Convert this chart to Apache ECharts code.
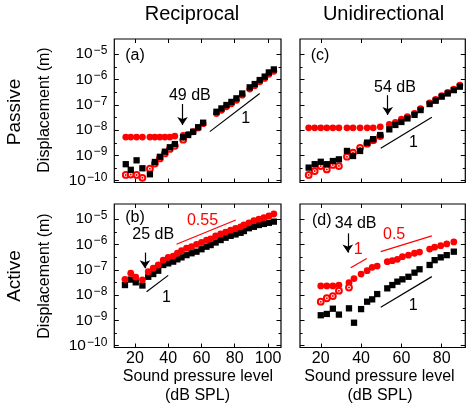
<!DOCTYPE html>
<html><head><meta charset="utf-8">
<script src="https://cdn.jsdelivr.net/npm/echarts@6/dist/echarts.min.js"></script>
<style>html,body{margin:0;padding:0;background:#fff}#c{width:474px;height:415px}</style>
</head><body><div id="c"></div>
<script>
// ---------- data ----------
// (a) Reciprocal, passive
const aX = [14.5, 17.5, 21, 24.5, 29, 32, 35, 38, 41, 44, 49, 52, 55, 58, 61, 69, 72, 75, 78, 81, 84.5, 89, 92, 95, 98, 100.5, 103.5];
const aBlack = [4.5e-10, 2.7e-10, 6.4e-10, 3.1e-10, 1.8e-10, 5.5e-10, 8.8e-10, 1.4e-9, 2.1e-9, 2.8e-9, 5.2e-9, 6.4e-9, 8.6e-9, 1.3e-8, 1.96e-8, 5.3e-8, 7.2e-8, 9.8e-8, 1.3e-7, 1.8e-7, 2.8e-7, 4.9e-7, 6.6e-7, 9.5e-7, 1.3e-6, 1.9e-6, 2.5e-6];
const aRed = [5.3e-9, 5.3e-9, 5.3e-9, 5.3e-9, 5.3e-9, 5.3e-9, 5.3e-9, 5.3e-9, 5.3e-9, 5.8e-9, 6.2e-9, 6.8e-9, 8.6e-9, 1.2e-8, 1.8e-8, 4.5e-8, 6.1e-8, 8.3e-8, 1.1e-7, 1.5e-7, 2.4e-7, 4.2e-7, 5.6e-7, 8.1e-7, 1.1e-6, 1.6e-6, 2.1e-6];
const aOpen = [1.7e-10, 1.75e-10, 1.7e-10, 1.3e-10, 3.0e-10, 4.8e-10, 7.6e-10, 1.2e-9, 1.8e-9, 2.4e-9, 4.2e-9];
// (c) Unidirectional, passive
const cX = [14, 17, 20, 23, 26, 29, 33, 36, 39.5, 43, 46, 49.5, 54, 57, 60, 63, 66.5, 69.5, 74, 77, 80, 83, 86, 89];
const cBlack = [3.3e-10, 4.5e-10, 5.6e-10, 4.5e-10, 6e-10, 7e-10, 1.5e-9, 9.5e-10, 1.5e-9, 3.2e-9, 4.4e-9, 6.4e-9, 1.07e-8, 1.6e-8, 2.1e-8, 2.9e-8, 4e-8, 6.2e-8, 1.07e-7, 1.45e-7, 2.1e-7, 2.8e-7, 3.8e-7, 5.2e-7];
const cRed = [1.23e-8, 1.23e-8, 1.23e-8, 1.23e-8, 1.23e-8, 1.23e-8, 1.23e-8, 1.23e-8, 1.23e-8, 1.23e-8, 1.23e-8, 1.35e-8, 1.7e-8, 2.0e-8, 2.7e-8, 3.4e-8, 4.6e-8, 7.1e-8, 1.2e-7, 1.65e-7, 2.3e-7, 3.1e-7, 4.2e-7, 6e-7];
const cOpen = [1.7e-10, 2.4e-10, 3.8e-10, 2.8e-10, 4.2e-10, 3.8e-10, 8.9e-10, 1.3e-9, 2e-9, 2.9e-9, 4e-9, 5.8e-9];
// (b) Reciprocal, active
const bX = [14, 17.5, 20.5, 24.5, 28, 31, 34, 37, 40, 43, 45.5, 48, 51, 54, 57, 60, 63, 65.5, 68.5, 71.5, 74.5, 77.5, 80.5, 83.5, 85.5, 88.5, 91.5, 94.5, 97.5, 100.5, 103.5];
const bRed = [4.2e-8, 7.3e-8, 5.1e-8, 4e-8, 8.4e-8, 1.15e-7, 1.55e-7, 2.4e-7, 3.1e-7, 3.5e-7, 4.5e-7, 5.7e-7, 7.1e-7, 8.2e-7, 1.02e-6, 1.2e-6, 1.5e-6, 1.66e-6, 2.2e-6, 2.6e-6, 3.1e-6, 3.7e-6, 4.3e-6, 5e-6, 5.9e-6, 7.2e-6, 8.7e-6, 1e-5, 1.15e-5, 1.35e-5, 1.6e-5];
const bBlack = [2.5e-8, 4.1e-8, 3.2e-8, 2.4e-8, 5.3e-8, 6.8e-8, 9.2e-8, 1.55e-7, 1.8e-7, 2.1e-7, 2.6e-7, 3.1e-7, 3.8e-7, 4.5e-7, 5.2e-7, 6.5e-7, 8.2e-7, 9.5e-7, 1.2e-6, 1.5e-6, 1.85e-6, 2.2e-6, 2.5e-6, 2.9e-6, 3.4e-6, 4.4e-6, 5e-6, 5.9e-6, 6.5e-6, 7.2e-6, 8e-6];
const bOpen = [];
// (d) Unidirectional, active
const dX = [20, 23, 26, 29, 34, 36.5, 40, 43, 45.5, 48, 53, 55.5, 58, 60.5, 63.5, 66.5, 69, 74, 76.5, 79.5, 82.5, 86];
const dRed = [2.3e-8, 2.3e-8, 2.3e-8, 2.5e-8, 3.1e-8, 4.5e-8, 6.8e-8, 9.2e-8, 1.25e-7, 1.4e-7, 2.1e-7, 2.3e-7, 2.6e-7, 3.3e-7, 3.8e-7, 4.5e-7, 5e-7, 6.6e-7, 7.8e-7, 9e-7, 1.05e-6, 1.26e-6];
const dOpen = [5.5e-9, 7.5e-9, 9.2e-9, 1.5e-8, 2e-8];
const dBlack = [1.6e-9, 1.8e-9, 2.9e-9, 1.7e-9, 3e-9, 8.1e-10, 2.8e-9, 5.5e-9, 6.8e-9, 1.1e-8, 1.85e-8, 2.5e-8, 3.4e-8, 4.2e-8, 5.3e-8, 7.7e-8, 1.05e-7, 1.55e-7, 2.4e-7, 3.1e-7, 3.8e-7, 5.2e-7];

// tick labels
const xTicksLeft = [20, 40, 60, 80, 100];
const xTicksRight = [20, 40, 60, 80];
const yTickExp = [-10, -9, -8, -7, -6, -5];

// annotations: [text, x, log10(y), colour]
const aTexts = [['(a)', 20, -5.06, '#000'], ['49 dB', 53, -6.64, '#000'], ['1', 86.6, -7.53, '#000']];
const cTexts = [['(c)', 19.6, -5.06, '#000'], ['54 dB', 56.8, -6.32, '#000'], ['1', 66, -8.48, '#000']];
const bTexts = [['(b)', 20, -4.93, '#000'], ['25 dB', 31, -5.61, '#000'], ['1', 39, -8.09, '#000'], ['0.55', 60.6, -5.06, '#f00']];
const dTexts = [['(d)', 20.5, -5.06, '#000'], ['34 dB', 37.3, -5.16, '#000'], ['1', 38.6, -6.22, '#f00'], ['0.5', 56.4, -5.62, '#f00'], ['1', 65.9, -8.43, '#000']];
// arrows: [x, log10 start, log10 end]
const aArrows = [[48.6, -6.97, -7.8]];
const cArrows = [[53.2, -6.62, -7.4]];
const bArrows = [[26, -6.32, -6.94]];
const dArrows = [[33.4, -5.56, -6.32]];
// slope guides: [x1, log1, x2, log2, colour]
const aGuides = [[65, -8.06, 95, -6.55, '#000']];
const cGuides = [[49.75, -8.72, 75.1, -7.49, '#000']];
const bGuides = [[27, -7.87, 40, -7.22, '#000'], [45, -5.99, 80.6, -5.03, '#f00']];
const dGuides = [[34.86, -6.92, 42.8, -6.55, '#f00'], [49.75, -6.28, 75.1, -5.66, '#f00'], [49.75, -8.48, 75.1, -7.27, '#000']];

// ---------- layout ----------
const FONT = 'Liberation Sans';
const cols = [
  {left: 114.3, right: 281, xmin: 7.6, xmax: 107.8, ticks: xTicksLeft},
  {left: 300, right: 465.3, xmin: 9.7, xmax: 91.7, ticks: xTicksRight}
];
const rows = [{top: 39, bottom: 182.5}, {top: 204, bottom: 347.5}];
const LOGMIN = -10.07, LOGMAX = -4.4;

const panels = [
  {col: 0, row: 0, x: aX, black: aBlack, red: aRed, open: aOpen, redTop: false, texts: aTexts, arrows: aArrows, guides: aGuides},
  {col: 1, row: 0, x: cX, black: cBlack, red: cRed, open: cOpen, redTop: false, texts: cTexts, arrows: cArrows, guides: cGuides},
  {col: 0, row: 1, x: bX, black: bBlack, red: bRed, open: bOpen, redTop: true, texts: bTexts, arrows: bArrows, guides: bGuides},
  {col: 1, row: 1, x: dX, black: dBlack, red: dRed, open: dOpen, redTop: false, texts: dTexts, arrows: dArrows, guides: dGuides}
];

function px(col, v) { return col.left + (v - col.xmin) / (col.xmax - col.xmin) * (col.right - col.left); }
function py(row, e) { return row.top + (LOGMAX - e) / (LOGMAX - LOGMIN) * (row.bottom - row.top); }
function yLabel(v) {
  if (Math.abs(v - Math.round(v)) > 1e-6 || yTickExp.indexOf(Math.round(v)) < 0) return '';
  return '{a|10}{b|\u2212' + Math.abs(Math.round(v)) + '}';
}
const pairs = (xs, ys) => ys.map((y, k) => [xs[k], y]);

const grid = [], xAxis = [], yAxis = [], series = [];
panels.forEach(p => {
  const col = cols[p.col], row = rows[p.row];
  const tMin = col.ticks[0], tMax = col.ticks[col.ticks.length - 1];
  const eMin = yTickExp[0], eMax = yTickExp[yTickExp.length - 1];
  const gd = grid.length;
  grid.push({left: col.left, top: row.top, width: col.right - col.left, height: row.bottom - row.top,
    show: true, borderColor: '#000', borderWidth: 1.2, backgroundColor: 'transparent', containLabel: false, outerBoundsMode: 'none'});
  const l = px(col, tMin), r = px(col, tMax), t = py(row, eMax), b = py(row, eMin);
  const gt = grid.length;
  grid.push({left: l, top: t, width: r - l, height: b - t, show: false, containLabel: false, outerBoundsMode: 'none'});
  const xd = xAxis.length;
  xAxis.push({gridIndex: gd, type: 'value', min: col.xmin, max: col.xmax, show: false});
  const yd = yAxis.length;
  yAxis.push({gridIndex: gd, type: 'log', logBase: 10, min: Math.pow(10, LOGMIN), max: Math.pow(10, LOGMAX), show: false});
  ['bottom', 'top'].forEach(pos => xAxis.push({
    gridIndex: gt, type: 'value', position: pos, min: tMin, max: tMax, interval: 20,
    offset: pos === 'bottom' ? row.bottom - b : t - row.top,
    axisLine: {show: false, onZero: false},
    axisTick: {show: true, inside: true, length: 4, lineStyle: {color: '#000', width: 1}},
    splitLine: {show: false},
    axisLabel: {show: pos === 'bottom' && p.row === 1, margin: 3, fontSize: 16, fontFamily: FONT, color: '#000'}
  }));
  ['left', 'right'].forEach(pos => yAxis.push({
    gridIndex: gt, type: 'value', position: pos, min: eMin, max: eMax, interval: 1,
    offset: pos === 'left' ? l - col.left : col.right - r,
    axisLine: {show: false, onZero: false},
    axisTick: {show: true, inside: true, length: 4.5, lineStyle: {color: '#000', width: 1}},
    minorTick: {show: true, splitNumber: 2, length: 2.5, lineStyle: {color: '#000', width: 1}},
    splitLine: {show: false}, minorSplitLine: {show: false},
    axisLabel: {show: pos === 'left' && p.col === 0, margin: 7, formatter: yLabel,
      rich: {a: {fontSize: 15.5, fontFamily: FONT, color: '#000'},
             b: {fontSize: 12, fontFamily: FONT, color: '#000', verticalAlign: 'top', padding: [0, 0, 7, 1]}}}
  }));
  const common = {xAxisIndex: xd, yAxisIndex: yd, silent: true, animation: false};
  series.push(Object.assign({type: 'scatter', data: pairs(p.x, p.red), symbol: 'circle', symbolSize: 6.8,
    itemStyle: {color: '#f00', opacity: 1}, z: p.redTop ? 6 : 3}, common));
  if (p.open.length) {
    series.push(Object.assign({type: 'scatter', data: pairs(p.x, p.open), symbol: 'emptyCircle', symbolSize: 5.8,
      itemStyle: {color: '#f00', borderColor: '#f00', borderWidth: 1.4, opacity: 1}, z: 4}, common));
    series.push(Object.assign({type: 'scatter', data: pairs(p.x, p.open), symbol: 'circle', symbolSize: 2,
      itemStyle: {color: '#f00', opacity: 1}, z: 4}, common));
  }
  series.push(Object.assign({type: 'scatter', data: pairs(p.x, p.black), symbol: 'rect', symbolSize: 6.3,
    itemStyle: {color: '#000', opacity: 1}, z: 5,
    markLine: {silent: true, animation: false, symbol: ['none', 'arrow'], symbolSize: 8,
      label: {show: false}, lineStyle: {color: '#000', width: 1.2, type: 'solid', opacity: 1},
      emphasis: {disabled: true},
      data: p.arrows.map(a => [{coord: [a[0], Math.pow(10, a[1])]}, {coord: [a[0], Math.pow(10, a[2])]}])}
  }, common));
  p.guides.forEach(g => series.push(Object.assign({type: 'line', data: [[g[0], Math.pow(10, g[1])], [g[2], Math.pow(10, g[3])]],
    symbol: 'none', showSymbol: false, lineStyle: {color: g[4], width: 1.2, opacity: 1}, z: 2}, common)));
  series.push(Object.assign({type: 'scatter', symbol: 'circle', symbolSize: 1, itemStyle: {color: 'rgba(0,0,0,0)', opacity: 1}, z: 7,
    label: {show: true, position: 'inside', fontSize: 16, fontFamily: FONT, opacity: 1, textBorderWidth: 0},
    data: p.texts.map(tx => ({value: [tx[1], Math.pow(10, tx[2])], itemStyle: {opacity: 1},
      label: {formatter: tx[0], color: tx[3], opacity: 1}}))}, common));
});

function txt(s, x, y, size, rot) {
  return {type: 'text', x: x, y: y, rotation: rot || 0, silent: true,
    style: {text: s, fill: '#000', font: size + 'px "' + FONT + '"', fontSize: size, fontFamily: FONT,
      align: 'center', verticalAlign: 'middle', textAlign: 'center', textVerticalAlign: 'middle'}};
}
const R = Math.PI / 2;
const graphic = [
  txt('Reciprocal', 192, 14.8, 20), txt('Unidirectional', 383.5, 14.8, 20),
  txt('Passive', 15, 112, 19, R), txt('Active', 15, 276, 19, R),
  txt('Displacement (m)', 45, 110, 16, R), txt('Displacement (m)', 45, 276, 16, R),
  txt('Sound pressure level', 198, 377, 16), txt('(dB SPL)', 197.5, 396, 16),
  txt('Sound pressure level', 379.5, 377, 16), txt('(dB SPL)', 380, 396, 16)
];

const chart = echarts.init(document.getElementById('c'), null, {renderer: 'canvas', width: 474, height: 415});
chart.setOption({animation: false, backgroundColor: '#fff', grid, xAxis, yAxis, series, graphic});
</script></body></html>
